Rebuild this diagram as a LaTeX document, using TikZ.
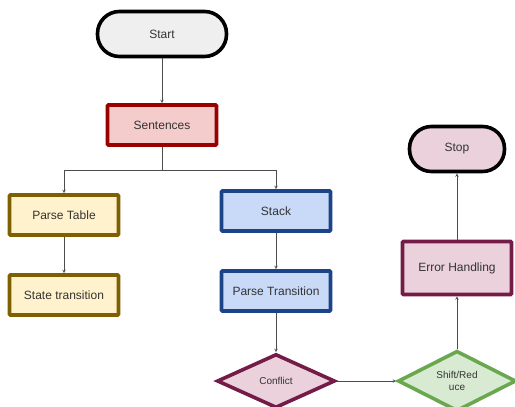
\documentclass[tikz,border=0pt]{standalone}
\usepackage{fontspec}
\setmainfont{Liberation Sans}
\usetikzlibrary{shapes.geometric}
\definecolor{startfill}{HTML}{EFEFEF}
\definecolor{redfill}{HTML}{F4CCCC}
\definecolor{redline}{HTML}{990000}
\definecolor{yellowfill}{HTML}{FFF2CC}
\definecolor{yellowline}{HTML}{7F6000}
\definecolor{bluefill}{HTML}{C9DAF8}
\definecolor{blueline}{HTML}{1C4587}
\definecolor{plumfill}{HTML}{EAD1DC}
\definecolor{plumline}{HTML}{741B47}
\definecolor{greenfill}{HTML}{D9EAD3}
\definecolor{greenline}{HTML}{6AA84F}
\begin{document}
\begin{tikzpicture}[
    x=1pt, y=-1pt,
    arrowstyle/.style={draw=black!70, line width=0.6pt, -stealth},
    terminal/.style={rectangle, draw, line width=3.6pt, rounded corners=22pt,
        minimum width=#1, minimum height=45pt, font=\fontsize{12}{14}\selectfont,
        text=black!80},
    process/.style={rectangle, draw, line width=3.6pt, rounded corners=1pt,
        minimum width=109pt, minimum height=40pt,
        font=\fontsize{12}{14}\selectfont, text=black!80},
    decision/.style={diamond, draw, line width=3.6pt, inner sep=0pt,
        minimum width=118pt, minimum height=54pt, align=center,
        font=\fontsize{10}{12}\selectfont, text=black!80}
]
\useasboundingbox (0,0) rectangle (515,407);
\node (Start) [terminal=129pt, fill=startfill] at (162,34) {Start};
\node (Sentences) [process, fill=redfill, draw=redline] at (162,125) {Sentences};
\node (ParseTable) [process, fill=yellowfill, draw=yellowline] at (64,215) {Parse Table};
\node (StateTransition) [process, fill=yellowfill, draw=yellowline] at (64,295) {State transition};
\node (Stack) [process, fill=bluefill, draw=blueline] at (276,211) {Stack};
\node (ParseTransition) [process, fill=bluefill, draw=blueline] at (276,291) {Parse Transition};
\node (Conflict) [decision, fill=plumfill, draw=plumline] at (276,381) {Conflict};
\node (ShiftReduce) [decision, fill=greenfill, draw=greenline] at (457,381) {Shift/Red\\uce};
\node (ErrorHandling) [process, minimum height=53pt, fill=plumfill, draw=plumline] at (457,268) {Error Handling};
\node (Stop) [terminal=95pt, fill=plumfill] at (457,149) {Stop};
\coordinate (Split) at (162,170);
% connectors
\draw [arrowstyle] (Start) -- (Sentences);
\draw [arrowstyle] (Sentences.south) -- (Split) -| (ParseTable.north);
\draw [arrowstyle] (Split) -| (Stack.north);
\draw [arrowstyle] (ParseTable) -- (StateTransition);
\draw [arrowstyle] (Stack) -- (ParseTransition);
\draw [arrowstyle] (ParseTransition) -- (Conflict);
\draw [arrowstyle] (Conflict) -- (ShiftReduce);
\draw [arrowstyle] (ShiftReduce) -- (ErrorHandling);
\draw [arrowstyle] (ErrorHandling) -- (Stop);
\end{tikzpicture}
\end{document}
